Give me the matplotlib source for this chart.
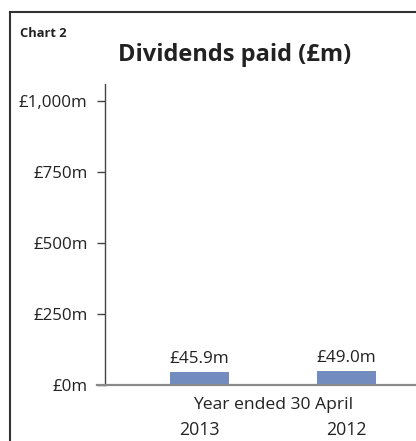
import matplotlib
matplotlib.use("Agg")
import matplotlib.pyplot as plt
from matplotlib.lines import Line2D

# data
years = ["2013", "2012"]
dividends = [45.9, 49.0]
bar_labels = ["£45.9m", "£49.0m"]
y_ticks = [0, 250, 500, 750, 1000]
y_tick_labels = ["£0m", "£250m", "£500m", "£750m", "£1,000m"]

plt.rcParams["font.family"] = ["Open Sans", "DejaVu Sans"]
text_col = "#222222"
bar_col = "#728cbf"

fig = plt.figure(figsize=(4.16, 4.41), dpi=100)
ax = fig.add_axes([0.2524, 0.1263, 0.7476, 0.6832])

x = list(range(len(years)))
ax.bar(x, dividends, width=0.40, color=bar_col, zorder=2)
for xi, v, lab in zip(x, dividends, bar_labels):
    ax.annotate(lab, (xi, v), xytext=(0, 4), textcoords="offset points",
                ha="center", va="bottom", fontsize=12.3, color=text_col)

ax.set_xlim(-0.642, 1.471)
ax.set_ylim(0, 1059)
ax.set_yticks(y_ticks)
ax.set_yticklabels(y_tick_labels)
ax.set_xticks(x)
ax.set_xticklabels(years)

for s in ["top", "right"]:
    ax.spines[s].set_visible(False)
ax.spines["left"].set_color("#444444")
ax.spines["left"].set_linewidth(1.0)
ax.spines["bottom"].set_visible(False)
ax.axhline(0, xmin=-0.026, xmax=1, color="#8a8a8a", linewidth=1.6,
           clip_on=False, zorder=3)

ax.tick_params(axis="y", length=6, width=1.0, color="#444444", pad=6.5,
               labelsize=12.2, labelcolor=text_col)
ax.tick_params(axis="x", length=0, pad=26, labelsize=12.8, labelcolor=text_col)

ax.text(0.5, -0.079, "Year ended 30 April", transform=ax.get_xaxis_transform(),
        ha="center", va="baseline", fontsize=12.6, color=text_col)

# frame and titles
fig.add_artist(Line2D([10 / 416, 1], [1 - 12 / 441, 1 - 12 / 441],
                      color="#333333", linewidth=1.5))
fig.add_artist(Line2D([10 / 416, 10 / 416], [0, 1 - 12 / 441],
                      color="#333333", linewidth=1.5))
fig.text(20 / 416, 1 - 36.7 / 441, "Chart 2", fontsize=9.3, fontweight="bold",
         color=text_col, ha="left", va="baseline")
fig.text(235 / 416, 1 - 61 / 441, "Dividends paid (£m)", fontsize=17,
         fontweight="bold", color=text_col, ha="center", va="baseline")

fig.savefig("out.png", dpi=100)
